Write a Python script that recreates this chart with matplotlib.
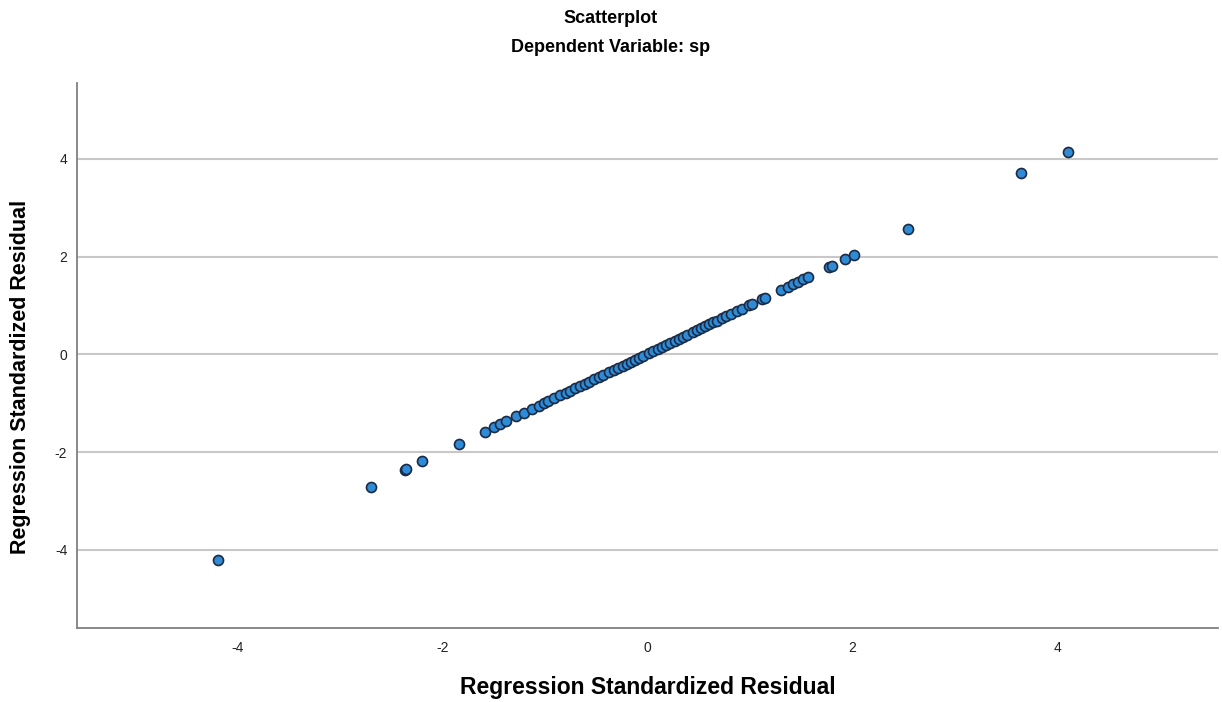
import matplotlib.pyplot as plt

plt.rcParams['font.family'] = ['Liberation Sans', 'DejaVu Sans']
plt.rcParams['axes.unicode_minus'] = False

# regression standardized predicted value vs standardized residual
pred = [-4.19, -2.70, -2.37, -2.36, -2.20, -1.84,
        -1.59, -1.50, -1.44, -1.38, -1.28, -1.21, -1.13, -1.06, -1.01, -0.97,
        -0.91, -0.85, -0.80, -0.76, -0.71, -0.66, -0.61, -0.57, -0.52, -0.47,
        -0.43, -0.38, -0.33, -0.29, -0.24, -0.20, -0.16, -0.12, -0.08, -0.04,
        0.01, 0.05, 0.10, 0.14, 0.18, 0.22, 0.27, 0.31, 0.35, 0.39,
        0.44, 0.48, 0.52, 0.56, 0.60, 0.64, 0.68, 0.73, 0.77, 0.82,
        0.87, 0.92, 0.99, 1.02, 1.12, 1.15, 1.30, 1.37, 1.42, 1.47,
        1.52, 1.57, 1.77, 1.80, 1.93, 2.02, 2.54, 3.65, 4.11]
resid = [-4.21, -2.71, -2.36, -2.34, -2.19, -1.83,
         -1.58, -1.49, -1.43, -1.37, -1.27, -1.20, -1.12, -1.05, -1.00, -0.96,
         -0.90, -0.84, -0.79, -0.75, -0.70, -0.65, -0.60, -0.56, -0.51, -0.46,
         -0.42, -0.37, -0.32, -0.28, -0.23, -0.19, -0.15, -0.11, -0.07, -0.03,
         0.02, 0.06, 0.11, 0.15, 0.19, 0.23, 0.28, 0.32, 0.36, 0.40,
         0.45, 0.49, 0.53, 0.57, 0.61, 0.65, 0.69, 0.74, 0.78, 0.83,
         0.88, 0.93, 1.00, 1.03, 1.13, 1.16, 1.31, 1.38, 1.43, 1.48,
         1.53, 1.58, 1.78, 1.81, 1.94, 2.04, 2.56, 3.70, 4.14]
ticks = [-4, -2, 0, 2, 4]

fig = plt.figure(figsize=(12.22, 7.02), dpi=100)
ax = fig.add_axes([0.063, 0.1054, 0.9337, 0.7764])

ax.scatter(pred, resid, s=52, c='#2f8bd6', edgecolors='#1c2b45', linewidths=1.2, zorder=3)

ax.set_xlim(-5.57, 5.57)
ax.set_ylim(-5.6, 5.55)
ax.set_xticks(ticks)
ax.set_yticks(ticks)
ax.tick_params(length=0, labelsize=10, colors='#222222')
ax.tick_params(axis='x', pad=9)
ax.tick_params(axis='y', pad=7)
ax.yaxis.grid(True, color='#c8c8c8', linewidth=1.5)
ax.set_axisbelow(True)
for s in ['top', 'right']:
    ax.spines[s].set_visible(False)
for s in ['left', 'bottom']:
    ax.spines[s].set_color('#808080')
    ax.spines[s].set_linewidth(1.3)

fig.text(0.5, 0.974, 'Scatterplot', ha='center', va='center', fontsize=13, fontweight='bold')
fig.text(0.5, 0.932, 'Dependent Variable: sp', ha='center', va='center', fontsize=13, fontweight='bold')
fig.text(0.53, 0.02, 'Regression Standardized Residual', ha='center', va='center',
         fontsize=16.5, fontweight='bold')
fig.text(0.017, 0.463, 'Regression Standardized Residual', ha='center', va='center',
         rotation=90, fontsize=15.5, fontweight='bold')

fig.savefig('out.png', dpi=100)
